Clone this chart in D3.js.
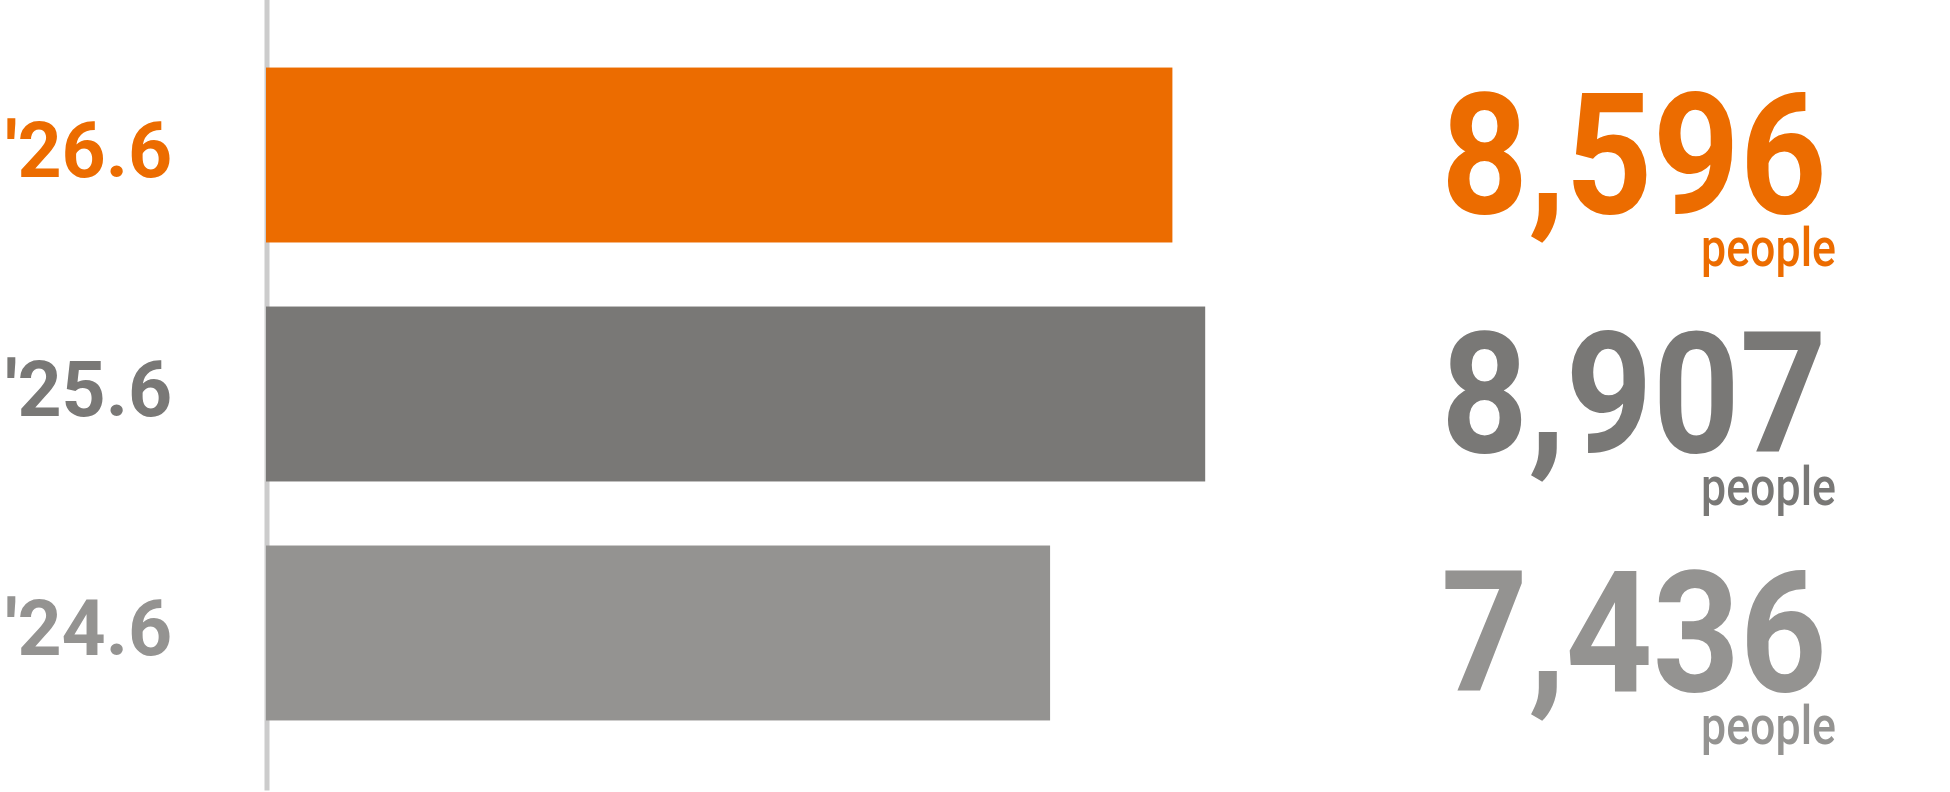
<!DOCTYPE html>
<html>
<head>
<meta charset="utf-8">
<script src="https://cdn.jsdelivr.net/npm/d3@7"></script>
<style>
    html, body { margin: 0; padding: 0; background: #fff; }
    svg { display: block; }
    .period { font-family: Roboto, "DejaVu Sans", sans-serif; font-weight: 700; font-size: 77px; }
    .count { font-family: Roboto, "DejaVu Sans", sans-serif; font-weight: 700; font-size: 169px; }
    .unit { font-family: Roboto, "DejaVu Sans", sans-serif; font-weight: 500; font-size: 54px; }
</style>
</head>
<body>
<svg id="chart"></svg>
<script>
// data
const periods = ["'26.6", "'25.6", "'24.6"];
const counts = [8596, 8907, 7436];
const unitLabel = "people";

const width = 1950;
const height = 792;
const barLeft = 266;

const svg = d3.select("#chart")
    .attr("width", width)
    .attr("height", height);

const color = d3.scaleOrdinal()
    .domain(periods)
    .range(["#ec6c00", "#797876", "#949391"]);

const x = d3.scaleLinear()
    .domain([0, 9000])
    .range([barLeft, barLeft + 949]);

const y = d3.scaleBand()
    .domain(periods)
    .range([-2, 790])
    .paddingInner(0.268)
    .paddingOuter(0.291);

const rows = periods.map((p, i) => ({period: p, count: counts[i]}));

// grey baseline (axis domain only)
const yAxis = svg.append("g")
    .attr("transform", "translate(" + (barLeft + 0.5) + ",0)")
    .call(d3.axisLeft(y).tickSize(0).tickFormat(""));
yAxis.select(".domain")
    .attr("stroke", "#cccccc")
    .attr("stroke-width", 5);
yAxis.selectAll(".tick").remove();

// bars
svg.selectAll(".bar").data(rows)
    .enter().append("rect")
    .classed("bar", true)
    .attr("x", x(0))
    .attr("y", d => y(d.period))
    .attr("width", d => x(d.count) - x(0))
    .attr("height", y.bandwidth())
    .attr("fill", d => color(d.period));

// period labels on the left
svg.selectAll(".period").data(rows)
    .enter().append("text")
    .classed("period", true)
    .attr("x", 5)
    .attr("y", d => y(d.period) + y.bandwidth() / 2 + 22)
    .attr("fill", d => color(d.period))
    .text(d => d.period);

// big numbers
const fmt = d3.format(",");
svg.selectAll(".count").data(rows)
    .enter().append("text")
    .classed("count", true)
    .attr("text-anchor", "end")
    .attr("x", 1827)
    .attr("y", d => y(d.period) + y.bandwidth() / 2 + 58)
    .attr("textLength", 386)
    .attr("lengthAdjust", "spacingAndGlyphs")
    .attr("fill", d => color(d.period))
    .text(d => fmt(d.count));

// unit under the numbers
svg.selectAll(".unit").data(rows)
    .enter().append("text")
    .classed("unit", true)
    .attr("text-anchor", "end")
    .attr("x", 1836)
    .attr("y", d => y(d.period) + y.bandwidth() / 2 + 111)
    .attr("textLength", 135)
    .attr("lengthAdjust", "spacingAndGlyphs")
    .attr("fill", d => color(d.period))
    .text(unitLabel);
</script>
</body>
</html>
